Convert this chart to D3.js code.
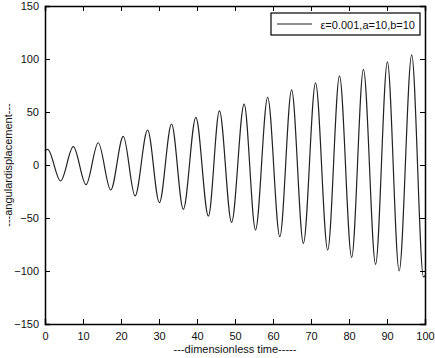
<!DOCTYPE html>
<html>
<head>
<meta charset="utf-8">
<script src="https://cdn.jsdelivr.net/npm/d3@7"></script>
<style>
  body { margin: 0; background: #fff; }
  svg { display: block; font-family: "Liberation Sans", Arial, sans-serif; }
  .axis text { font-size: 11px; fill: #111; }
</style>
</head>
<body>
<svg id="chart" width="435" height="358"></svg>
<script>
// turning points of the response
const times = [0, 0.7, 4.1, 7.45, 10.8, 14.0, 17.3, 20.6, 23.7, 27.0, 30.1, 33.3, 36.4, 39.7, 43.0,
  45.9, 49.1, 52.4, 55.4, 58.6, 61.8, 64.9, 68.0, 71.2, 74.4, 77.5, 80.7, 83.8, 87.0, 90.1, 93.2, 96.5, 99.6, 100]
const displacement = [13.5, 14.8, -15.1, 17.3, -18.6, 21, -23.6, 27, -29.2, 33, -35.5, 38.7, -41.8, 45, -48.1,
  51, -54.1, 57.5, -61.3, 63.9, -67.6, 70.8, -73.9, 77.4, -80.2, 84, -87.1, 90.3, -93.7, 97.2, -100, 103.8, -105.5, -104.5]

const xTicks = [0, 10, 20, 30, 40, 50, 60, 70, 80, 90, 100]
const yTicks = [-150, -100, -50, 0, 50, 100, 150]
const legendLabel = 'ε=0.001,a=10,b=10'

const svg = d3.select('#chart')
const margin = { top: 6, right: 10, bottom: 34, left: 45 }
const w = 435 - margin.left - margin.right
const h = 358 - margin.top - margin.bottom

const x = d3.scaleLinear().domain([0, 100]).range([0, w])
const y = d3.scaleLinear().domain([-150, 150]).range([h, 0])

const g = svg.append('g').attr('transform', `translate(${margin.left},${margin.top})`)

const data = times.map((t, i) => ({ t, v: displacement[i] }))

g.append('path')
  .datum(data)
  .attr('fill', 'none')
  .attr('stroke', '#222')
  .attr('stroke-width', 1.2)
  .attr('d', d3.line().x(d => x(d.t)).y(d => y(d.v)).curve(d3.curveMonotoneX))

// axes with inward ticks
g.append('g').attr('class', 'axis')
  .attr('transform', `translate(0,${h})`)
  .call(d3.axisBottom(x).tickValues(xTicks).tickSize(-5).tickPadding(8))
g.append('g').attr('class', 'axis')
  .call(d3.axisLeft(y).tickValues(yTicks).tickSize(-5).tickPadding(6))
g.append('g').attr('class', 'axis')
  .call(d3.axisTop(x).tickValues(xTicks).tickSize(-5).tickFormat(''))
g.append('g').attr('class', 'axis')
  .attr('transform', `translate(${w},0)`)
  .call(d3.axisRight(y).tickValues(yTicks).tickSize(-5).tickFormat(''))

g.selectAll('.axis .domain').attr('stroke', '#000').attr('stroke-width', 1.5)
g.selectAll('.axis line').attr('stroke', '#000')

// labels
svg.append('text')
  .attr('x', margin.left + w / 2)
  .attr('y', 353)
  .attr('text-anchor', 'middle')
  .attr('font-size', 11)
  .attr('fill', '#111')
  .text('---dimensionless time-----')

svg.append('text')
  .attr('transform', `translate(12,${margin.top + h / 2}) rotate(-90)`)
  .attr('text-anchor', 'middle')
  .attr('font-size', 11)
  .attr('fill', '#111')
  .text('---angulardisplacement---')

// legend
const legend = svg.append('g').attr('transform', 'translate(271,13)')
legend.append('rect')
  .attr('width', 149).attr('height', 22)
  .attr('fill', '#fff').attr('stroke', '#000').attr('stroke-width', 1.2)
legend.append('line')
  .attr('x1', 6).attr('x2', 41).attr('y1', 11).attr('y2', 11)
  .attr('stroke', '#222').attr('stroke-width', 1.2)
legend.append('text')
  .attr('x', 144).attr('y', 15.5)
  .attr('text-anchor', 'end')
  .attr('font-size', 11)
  .attr('fill', '#111')
  .text(legendLabel)
</script>
</body>
</html>
